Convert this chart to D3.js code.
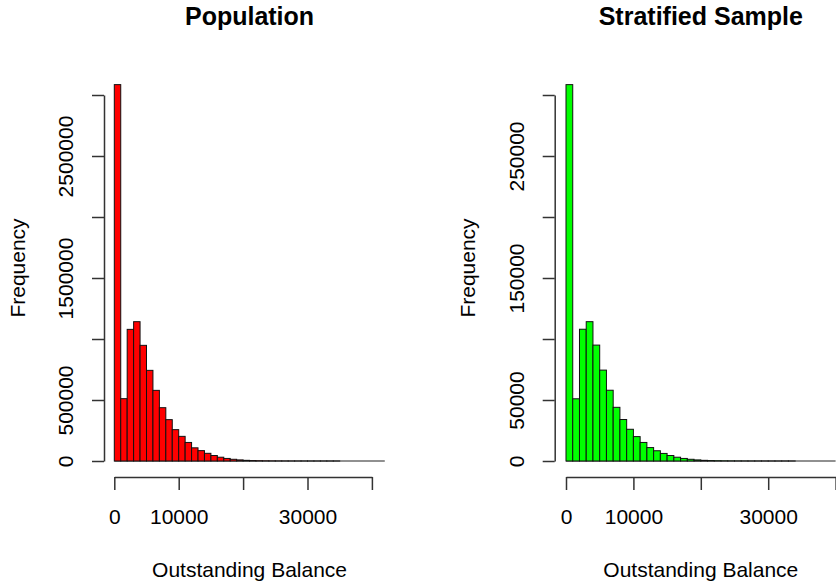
<!DOCTYPE html>
<html lang="en">
  <head>
    <meta charset="UTF-8" />
    <title>Population vs Stratified Sample</title>
    <script src="https://cdn.jsdelivr.net/npm/d3@7"></script>
    <style>
      body { margin: 0; background: #fff; }
      text { font-family: "Liberation Sans", Arial, sans-serif; fill: #000; }
    </style>
  </head>
  <body>
    <script>
      // histogram counts, bins of 1000 starting at 0
      var binWidth = 1000;
      var popCounts = [3085000, 511000, 1079000, 1142000, 948000, 743000, 579000, 437000,
        339000, 257000, 202000, 152000, 108000, 85000, 63000, 45000, 31000, 21000, 14000,
        9000, 5500, 3500, 2200, 1300, 800, 500, 300, 200, 120, 80, 50, 30, 20, 10, 5, 0,
        0, 0, 0, 0, 0, 0];
      var sampleCounts = [308500, 51000, 108000, 114200, 95000, 74500, 58000, 44000,
        34000, 26000, 20000, 15200, 11000, 8400, 6200, 4500, 3100, 2100, 1400, 900, 550,
        350, 220, 130, 80, 50, 30, 20, 12, 8, 5, 3, 2, 1, 0, 0, 0, 0, 0, 0];

      var popYTicks = [0, 500000, 1000000, 1500000, 2000000, 2500000, 3000000];
      var popYLabels = ["0", "500000", "", "1500000", "", "2500000", ""];
      var sampleYTicks = [0, 50000, 100000, 150000, 200000, 250000, 300000];
      var sampleYLabels = ["0", "50000", "", "150000", "", "250000", ""];
      var xTicks = [0, 10000, 20000, 30000, 40000];
      var xLabels = ["0", "10000", "", "30000", ""];

      var svg = d3.select("body").append("svg")
        .attr("width", 836).attr("height", 582);

      function panel(opt) {
        var counts = opt.counts;
        var g = svg.append("g");
        var x = d3.scaleLinear().domain([0, counts.length * binWidth])
          .range([opt.x0, opt.x0 + counts.length * binWidth * opt.pxPerUnit]);
        var y = d3.scaleLinear().domain([0, opt.yTicks[opt.yTicks.length - 1]])
          .range([461, 95]);

        // zero-height bins still show as a line along the bottom
        g.append("line")
          .attr("x1", x(0)).attr("x2", x(counts.length * binWidth))
          .attr("y1", y(0)).attr("y2", y(0))
          .attr("stroke", "#222").attr("stroke-width", 1.2);

        g.selectAll("rect.bar").data(counts).enter().append("rect")
          .attr("class", "bar")
          .attr("x", function (d, i) { return x(i * binWidth); })
          .attr("width", function (d, i) { return x((i + 1) * binWidth) - x(i * binWidth); })
          .attr("y", function (d) { return y(d); })
          .attr("height", function (d) { return y(0) - y(d); })
          .attr("fill", opt.fill)
          .attr("stroke", "#111")
          .attr("stroke-width", 1);

        // y axis
        var yAxis = d3.axisLeft(y).tickValues(opt.yTicks).tickSize(12).tickSizeOuter(0)
          .tickFormat(function (d, i) { return opt.yLabels[i]; });
        var ya = g.append("g").attr("transform", "translate(" + opt.yAxisX + ",0)").call(yAxis);
        ya.selectAll("path, line").attr("stroke", "#333").attr("stroke-width", 1.5);
        ya.selectAll("text")
          .attr("x", 0).attr("y", 0).attr("dy", null)
          .attr("text-anchor", "middle")
          .attr("font-size", 21)
          .attr("transform", "translate(-31,0) rotate(-90)");

        // x axis (0..40000 only)
        var xa = d3.scaleLinear().domain([0, 40000]).range([x(0), x(40000)]);
        var xAxis = d3.axisBottom(xa).tickValues(xTicks).tickSize(13).tickSizeOuter(0)
          .tickFormat(function (d, i) { return xLabels[i]; });
        var xg = g.append("g").attr("transform", "translate(0,477)").call(xAxis);
        xg.selectAll("path, line").attr("stroke", "#333").attr("stroke-width", 1.5);
        xg.selectAll("text").attr("y", 47).attr("dy", null).attr("font-size", 21);

        var cx = (x.range()[0] + x.range()[1]) / 2;
        g.append("text").attr("x", cx).attr("y", 25).attr("text-anchor", "middle")
          .attr("font-size", 25).attr("font-weight", "bold").text(opt.title);
        g.append("text").attr("x", cx).attr("y", 577).attr("text-anchor", "middle")
          .attr("font-size", 21).text("Outstanding Balance");
        g.append("text").attr("transform", "translate(" + opt.freqX + ",268) rotate(-90)")
          .attr("text-anchor", "middle").attr("font-size", 21).text("Frequency");
      }

      panel({ counts: popCounts, fill: "#ff0000", x0: 114.3, pxPerUnit: 0.00644,
        yAxisX: 104, yTicks: popYTicks, yLabels: popYLabels, freqX: 25, title: "Population" });
      panel({ counts: sampleCounts, fill: "#00ff00", x0: 566, pxPerUnit: 0.00674,
        yAxisX: 554.7, yTicks: sampleYTicks, yLabels: sampleYLabels, freqX: 475, title: "Stratified Sample" });
    </script>
  </body>
</html>
